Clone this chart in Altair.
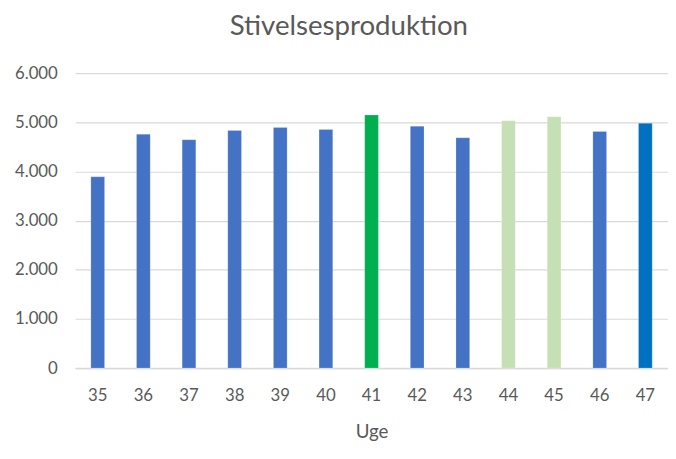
import altair as alt
import pandas as pd

weeks = ["35", "36", "37", "38", "39", "40", "41", "42", "43", "44", "45", "46", "47"]
values = [3890, 4759, 4645, 4833, 4893, 4853, 5147, 4920, 4685, 5030, 5114, 4813, 4980]
colors = ["#4472C4"] * 6 + ["#00B050", "#4472C4", "#4472C4", "#C5E0B4", "#C5E0B4", "#4472C4", "#0070C0"]

df = pd.DataFrame({"Uge": weeks, "value": values, "color": colors})

FONT = "Lato"
GREY = "#595959"

chart = alt.Chart(df).mark_bar(stroke="white", strokeOpacity=0.4, strokeWidth=0.5).encode(
    x=alt.X("Uge:N", sort=weeks,
            scale=alt.Scale(paddingInner=0.7, paddingOuter=0.346),
            axis=alt.Axis(title="Uge", labelAngle=0, labelFontSize=17, labelColor=GREY,
                          labelFont=FONT, labelPadding=20, ticks=False,
                          domainColor="#D9D9D9", domainWidth=1.5,
                          titleFont=FONT, titleFontSize=19, titleColor=GREY,
                          titleFontWeight="normal", titlePadding=19)),
    y=alt.Y("value:Q", scale=alt.Scale(domain=[0, 6000]),
            axis=alt.Axis(title=None, values=[0, 1000, 2000, 3000, 4000, 5000, 6000],
                          labelExpr="replace(format(datum.value, ','), ',', '.')",
                          labelFontSize=17, labelColor=GREY, labelFont=FONT,
                          labelPadding=18, ticks=False, domain=False,
                          gridColor="#D9D9D9", gridWidth=1.2)),
    color=alt.Color("color:N", scale=None),
).properties(
    width=601,
    height=299,
    padding={"left": 68, "top": 63, "right": 0, "bottom": 80},
    autosize=alt.AutoSizeParams(type="none"),
    title=alt.TitleParams("Stivelsesproduktion", fontSize=28, font=FONT, color=GREY,
                          fontWeight="normal", anchor="middle", dx=-23, offset=24),
).configure_view(stroke=None)

chart.save("out.html", embed_options={"renderer": "svg", "actions": False})
